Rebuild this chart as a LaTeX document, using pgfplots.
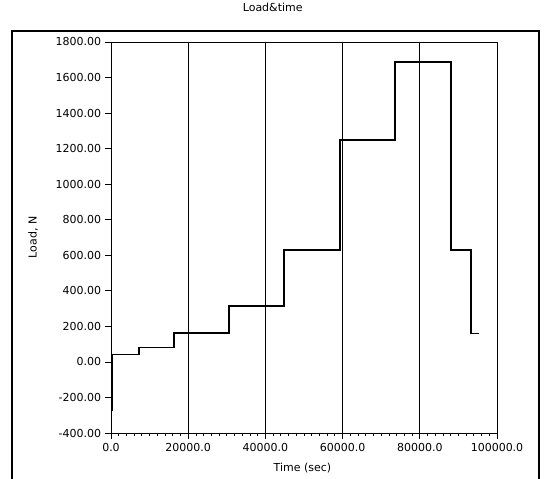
\documentclass[border=0pt]{standalone}
\usepackage{fontspec}
\setmainfont{DejaVu Sans}
\usepackage{pgfplots}
\pgfplotsset{compat=1.18}

\begin{document}
\fontsize{11bp}{13bp}\selectfont
\begin{tikzpicture}[x=1bp,y=1bp]
\path[use as bounding box] (0,0) rectangle (544,479);
\begin{axis}[
  at={(111bp,46bp)}, anchor=south west,
  scale only axis, width=386bp, height=391bp,
  xmin=0, xmax=100000, ymin=-400, ymax=1800,
  xtick={0,20000,40000,60000,80000,100000}, minor x tick num=9,
  ytick={-400,-200,0,200,400,600,800,1000,1200,1400,1600,1800},
  scaled x ticks=false, scaled y ticks=false,
  /pgf/number format/assume math mode=true,
  xticklabel style={/pgf/number format/.cd, fixed, fixed zerofill, precision=1, 1000 sep={}},
  yticklabel style={/pgf/number format/.cd, fixed, fixed zerofill, precision=2, 1000 sep={}},
  tick align=outside, tick pos=left,
  major tick length=6bp, minor tick length=3bp,
  every tick/.style={black, line width=0.8bp},
  xmajorgrids, major x grid style={black, line width=0.8bp},
  axis line style={line width=0.8bp},
  title={Load\&time},
  title style={at={(axis description cs:0.419,1.074)}, anchor=center},
  xlabel={Time (sec)},
  xlabel style={at={(axis description cs:0.496,-0.0895)}, anchor=center},
  ylabel={Load, N},
  ylabel style={at={(axis description cs:-0.202,0.5)}, anchor=center},
]
% load steps
\addplot[black, line width=1.6bp, line join=miter] coordinates {
  (400,-275) (400,41) (7300,41) (7300,82) (16300,82) (16300,161)
  (30500,161) (30500,316) (44800,316) (44800,628) (59300,628)
  (59300,1250) (73600,1250) (73600,1687) (88100,1687) (88100,628)
  (93300,628) (93300,160) (95400,160)
};
\end{axis}
% outer panel frame
\draw[line width=2bp] (12,0) -- (12,448) -- (539,448) -- (539,0);
\end{tikzpicture}
\end{document}
